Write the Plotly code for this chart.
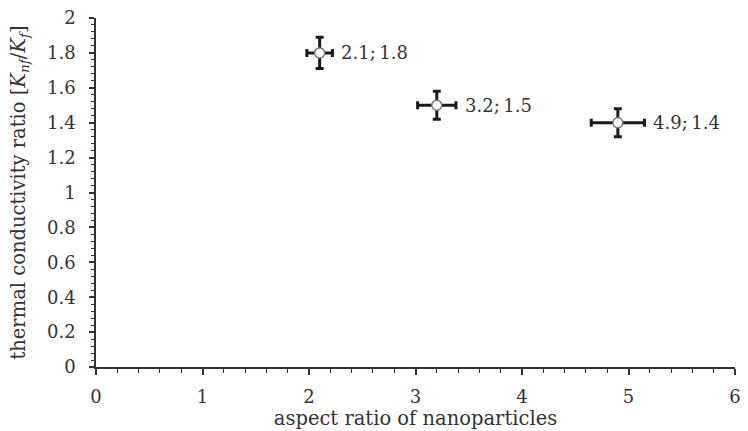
import plotly.graph_objects as go

aspect_ratio = [2.1, 3.2, 4.9]
conductivity_ratio = [1.8, 1.5, 1.4]
x_err = [0.12, 0.18, 0.25]
y_err = [0.09, 0.08, 0.08]
point_labels = ["2.1;\u20091.8", "3.2;\u20091.5", "4.9;\u20091.4"]

FONT = "DejaVu Serif"

fig = go.Figure()
fig.add_trace(go.Scatter(
    x=aspect_ratio, y=conductivity_ratio, mode="markers",
    marker=dict(size=10, color="white", line=dict(color="#777777", width=1.5)),
    error_x=dict(type="data", array=x_err, color="#1a1a1a", thickness=3, width=4),
    error_y=dict(type="data", array=y_err, color="#1a1a1a", thickness=3, width=4),
    showlegend=False, hoverinfo="skip",
))

for xv, yv, ex, lab in zip(aspect_ratio, conductivity_ratio, x_err, point_labels):
    fig.add_annotation(x=xv + ex, y=yv, text=lab, showarrow=False,
                       xanchor="left", yanchor="middle", xshift=7,
                       font=dict(family=FONT, size=18, color="#333333"))

fig.update_layout(
    width=748, height=431,
    margin=dict(l=96, r=7, t=17, b=64),
    paper_bgcolor="white", plot_bgcolor="white",
    font=dict(family=FONT, size=18, color="#333333"),
)
fig.update_xaxes(
    range=[0, 6], dtick=1, showgrid=False, zeroline=False,
    showline=True, linecolor="#333333", linewidth=1.5,
    ticks="outside", ticklen=6, tickcolor="#333333", tickwidth=1.5,
    minor=dict(dtick=0.2, ticks="outside", ticklen=4, tickcolor="#333333", tickwidth=1),
    tickfont=dict(family=FONT, size=18), ticklabelstandoff=7,
    title=dict(text="aspect ratio of nanoparticles", standoff=0,
               font=dict(family=FONT, size=19.5)),
)
fig.update_yaxes(
    range=[0, 2], dtick=0.2, showgrid=False, zeroline=False,
    showline=True, linecolor="#333333", linewidth=1.5,
    ticks="outside", ticklen=5, tickcolor="#333333", tickwidth=1.5,
    minor=dict(dtick=0.04, ticks="outside", ticklen=3, tickcolor="#333333", tickwidth=1),
    tickfont=dict(family=FONT, size=18), ticklabelstandoff=10,
    title=dict(text="thermal conductivity ratio [<i>K</i><sub><i>nf</i></sub>/<i>K</i><sub><i>f</i></sub>]",
               standoff=16, font=dict(family=FONT, size=19.5)),
)

fig.write_html("out.html")
